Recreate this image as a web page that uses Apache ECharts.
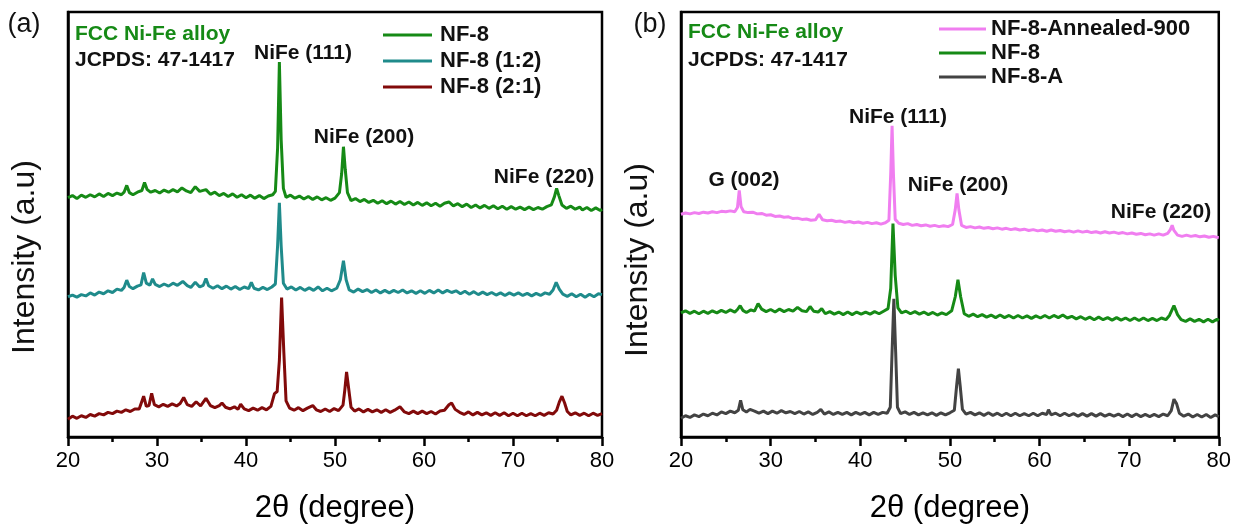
<!DOCTYPE html>
<html>
<head>
<meta charset="utf-8">
<script src="https://cdn.jsdelivr.net/npm/echarts@6/dist/echarts.min.js"></script>
<style>
	html, body { margin: 0; padding: 0; background: #fff; }
	#main { width: 1234px; height: 529px; }
</style>
</head>
<body>
<div id="main"></div>
<script>
// x ticks (2theta, degree)
var xTicks = [20, 30, 40, 50, 60, 70, 80];

// (a) NF-8
var nf8a = [[20,56.3],[20.5,56.8],[21,56.1],[21.5,56.9],[22,56.4],[22.5,57.0],[23,56.5],[23.5,57.2],[24,56.6],[24.5,57.3],[25,56.8],[25.5,57.4],[26,57.0],[26.3,57.6],[26.6,59.2],[26.9,57.5],[27.3,57.0],[27.8,57.6],[28.3,58.0],[28.6,59.9],[28.9,58.2],[29.3,57.6],[29.8,58.0],[30.3,57.4],[30.8,58.1],[31.3,57.6],[31.8,58.2],[32.3,57.7],[32.8,58.6],[33.3,57.9],[33.8,57.5],[34.3,58.9],[34.8,57.8],[35.5,58.2],[36,57.1],[36.5,57.6],[37,56.8],[37.5,57.3],[38,56.6],[38.5,57.2],[39,56.4],[39.5,57.0],[40,56.3],[40.5,56.9],[41,56.2],[41.5,56.8],[42,56.1],[42.5,56.7],[43,57.0],[43.3,57.8],[43.55,68],[43.75,88.2],[43.95,70],[44.2,58.5],[44.5,56.4],[45,56.9],[45.5,56.2],[46,56.7],[46.5,56.0],[47,56.6],[47.5,55.9],[48,56.5],[48.5,55.8],[49,56.3],[49.5,55.7],[50,56.2],[50.5,57.5],[50.75,62],[50.95,68.3],[51.15,63],[51.4,57.5],[51.8,55.6],[52.3,56.1],[52.8,55.4],[53.3,55.9],[53.8,55.2],[54.3,55.7],[54.8,55.0],[55.3,55.6],[55.8,54.9],[56.3,55.5],[56.8,54.8],[57.3,55.4],[57.8,54.7],[58.3,55.3],[58.8,54.6],[59.3,55.2],[59.8,54.5],[60.3,55.1],[60.8,54.4],[61.3,55.0],[61.8,54.3],[62.3,55.0],[62.8,55.3],[63.3,54.4],[63.8,54.9],[64.3,54.2],[64.8,54.8],[65.3,54.0],[65.8,54.6],[66.3,53.9],[66.8,54.5],[67.3,53.8],[67.8,54.4],[68.3,53.7],[68.8,54.3],[69.3,53.6],[69.8,54.2],[70.3,53.6],[70.8,54.1],[71.3,53.5],[71.8,54.1],[72.3,53.5],[72.8,54.0],[73.3,53.6],[73.8,54.2],[74.3,54.6],[74.65,56.5],[74.9,58.5],[75.15,56.8],[75.5,54.6],[76,53.8],[76.5,54.3],[77,53.6],[77.5,54.1],[77.8,53.4],[78.3,54.0],[78.8,53.3],[79.3,53.9],[79.8,53.3],[80,53.6]];

// (a) NF-8 (1:2)
var nf8_12 = [[20,33.0],[20.5,33.4],[21,32.9],[21.5,33.5],[22,33.2],[22.5,33.9],[23,33.4],[23.5,34.1],[24,33.7],[24.5,34.4],[25,34.0],[25.5,34.8],[26,34.5],[26.3,35.2],[26.6,36.9],[26.9,35.4],[27.3,34.9],[27.8,35.5],[28.2,35.8],[28.5,38.7],[28.8,36.2],[29.2,35.7],[29.5,37.2],[29.8,35.9],[30.3,35.4],[30.8,36.0],[31.3,35.5],[31.8,36.2],[32.3,35.7],[32.9,36.6],[33.4,35.6],[33.8,35.2],[34.3,36.4],[34.8,35.3],[35.2,35.7],[35.5,37.3],[35.8,35.6],[36.3,35.0],[36.8,35.6],[37.3,34.9],[37.8,35.5],[38.3,34.8],[38.8,35.4],[39.3,34.7],[39.8,35.3],[40.3,34.9],[40.6,36.4],[40.9,35.0],[41.4,34.6],[41.9,35.2],[42.4,34.7],[42.9,35.3],[43.3,36.0],[43.55,45],[43.75,55.1],[43.95,45],[44.2,36.2],[44.6,34.8],[45.1,35.3],[45.6,34.6],[46.1,35.2],[46.6,34.5],[47.1,35.1],[47.6,34.5],[48.1,35.3],[48.6,34.4],[49.1,35.0],[49.6,34.4],[50.2,35.0],[50.6,37],[50.95,41.5],[51.25,37],[51.6,34.6],[52.1,34.1],[52.6,34.8],[53.1,34.2],[53.6,34.7],[54.1,34.0],[54.6,34.6],[55.1,33.9],[55.6,34.5],[56.1,33.9],[56.6,34.5],[57.1,34.0],[57.6,34.6],[58.1,33.9],[58.6,34.4],[59.1,33.8],[59.6,34.4],[60.1,33.8],[60.6,34.5],[61.1,33.9],[61.6,34.6],[62.1,33.9],[62.6,34.5],[63.1,34.0],[63.6,34.4],[64.1,33.7],[64.6,34.3],[65.1,33.6],[65.6,34.2],[66.1,33.5],[66.6,34.1],[67.1,33.5],[67.6,34.0],[68.1,33.4],[68.6,33.9],[69.1,33.3],[69.6,33.9],[70.1,33.4],[70.6,33.9],[71.1,33.3],[71.6,33.8],[72.1,33.2],[72.6,33.8],[73.1,33.3],[73.6,33.9],[74.1,33.6],[74.5,34.6],[74.85,36.4],[75.2,34.8],[75.6,33.6],[76.1,33.1],[76.6,33.7],[77.1,33.0],[77.6,33.6],[78.1,32.9],[78.6,33.6],[79.1,33.0],[79.6,33.7],[80,33.5]];

// (a) NF-8 (2:1)
var nf8_21 = [[20,4.2],[20.5,4.9],[21,4.4],[21.5,5.0],[22,4.6],[22.5,5.3],[23,4.9],[23.5,5.5],[24,5.2],[24.5,5.8],[25,5.5],[25.5,6.1],[26,5.8],[26.5,6.4],[27,6.0],[27.5,6.6],[28,6.6],[28.5,9.6],[28.8,7.2],[29.1,7.4],[29.4,10.3],[29.7,7.6],[30.2,7.1],[30.7,7.7],[31.2,7.2],[31.7,7.8],[32.2,7.3],[32.6,7.9],[33,9.3],[33.4,7.6],[33.9,7.2],[34.4,8.3],[34.9,7.3],[35.5,9.1],[36,7.4],[36.5,6.9],[37,7.4],[37.3,8.0],[37.7,7.0],[38.2,6.6],[38.7,7.1],[39.1,6.5],[39.4,7.7],[39.8,6.6],[40.3,6.2],[40.8,6.8],[41.3,6.3],[41.8,6.9],[42.3,6.4],[42.8,7.2],[43.2,10.2],[43.5,10.7],[43.75,18],[44.0,32.8],[44.25,20],[44.5,8.5],[44.9,6.8],[45.4,6.3],[45.9,6.9],[46.4,6.2],[46.9,6.8],[47.5,7.4],[47.9,6.4],[48.4,6.0],[48.9,6.6],[49.4,6.0],[49.9,6.7],[50.4,6.2],[50.9,7.5],[51.1,11],[51.3,15.3],[51.5,12],[51.8,7.0],[52.2,6.1],[52.7,6.6],[53.2,5.9],[53.7,6.5],[54.2,5.9],[54.7,6.4],[55.2,5.8],[55.7,6.4],[56.2,5.8],[56.7,6.3],[57.3,7.1],[57.8,5.9],[58.3,5.5],[58.8,6.1],[59.3,5.5],[59.8,6.1],[60.3,5.5],[60.8,6.0],[61.3,5.4],[61.8,6.1],[62.3,6.3],[62.8,7.6],[63.1,8.0],[63.5,6.5],[64,5.8],[64.5,5.3],[65,5.9],[65.5,5.2],[66,5.8],[66.5,5.2],[67,5.7],[67.5,5.1],[68,5.7],[68.5,5.1],[69,5.7],[69.5,5.0],[70,5.6],[70.5,5.0],[71,5.6],[71.5,5.0],[72,5.5],[72.5,5.0],[73,5.6],[73.5,5.1],[74,5.7],[74.5,5.4],[74.9,6.3],[75.2,8.2],[75.5,9.6],[75.8,8.0],[76.1,6.0],[76.5,5.2],[77,5.7],[77.5,5.1],[78,5.6],[78.5,5.0],[79,5.6],[79.5,5.1],[80,5.5]];

// (b) NF-8-Annealed-900
var nf8ann = [[20,52.4],[20.5,52.7],[21,52.5],[21.5,52.8],[22,52.6],[22.5,52.9],[23,52.7],[23.5,53.0],[24,52.8],[24.5,53.1],[25,53.0],[25.5,53.2],[26,53.0],[26.3,54.0],[26.5,58.0],[26.7,54.2],[27,53.0],[27.5,52.8],[28,52.9],[28.5,52.5],[29,52.6],[29.5,52.2],[30,52.3],[30.5,51.9],[31,52.0],[31.5,51.7],[32,51.8],[32.5,51.4],[33,51.5],[33.5,51.2],[34,51.3],[34.5,51.0],[35,51.1],[35.4,52.4],[35.8,51.1],[36.3,50.9],[36.8,51.0],[37.3,50.7],[37.8,50.8],[38.3,50.5],[38.8,50.7],[39.3,50.4],[39.8,50.6],[40.3,50.3],[40.8,50.5],[41.3,50.2],[41.8,50.4],[42.3,50.1],[42.8,50.4],[43.2,51.0],[43.4,62],[43.55,73.2],[43.7,62],[43.9,51.2],[44.3,50.3],[44.8,50.0],[45.3,50.2],[45.8,49.8],[46.3,50.0],[46.8,49.7],[47.3,49.9],[47.8,49.6],[48.3,49.8],[48.8,49.5],[49.3,49.7],[49.8,49.5],[50.3,50.0],[50.6,53.5],[50.8,57.3],[51.0,53.5],[51.3,49.8],[51.8,49.3],[52.3,49.5],[52.8,49.2],[53.3,49.4],[53.8,49.1],[54.3,49.3],[54.8,49.0],[55.3,49.2],[55.8,48.9],[56.3,49.1],[56.8,48.8],[57.3,49.0],[57.8,48.7],[58.3,48.9],[58.8,48.6],[59.3,48.8],[59.8,48.5],[60.3,48.7],[60.8,48.4],[61.3,48.7],[61.8,48.4],[62.3,48.6],[62.8,48.3],[63.3,48.5],[63.8,48.2],[64.3,48.5],[64.8,48.2],[65.3,48.4],[65.8,48.1],[66.3,48.3],[66.8,48.0],[67.3,48.3],[67.8,48.0],[68.3,48.2],[68.8,47.9],[69.3,48.1],[69.8,47.8],[70.3,48.0],[70.8,47.7],[71.3,47.9],[71.8,47.6],[72.3,47.8],[72.8,47.5],[73.3,47.8],[73.8,47.5],[74.3,47.9],[74.6,48.8],[74.8,49.8],[75.0,48.6],[75.4,47.5],[75.9,47.2],[76.4,47.5],[76.9,47.2],[77.4,47.4],[77.9,47.1],[78.4,47.3],[78.9,47.0],[79.4,47.2],[80,46.9]];

// (b) NF-8
var nf8b = [[20,29.2],[20.5,29.7],[21,29.1],[21.5,29.6],[22,29.0],[22.5,29.6],[23,29.1],[23.5,29.7],[24,29.2],[24.5,29.8],[25,29.3],[25.5,29.9],[26,29.4],[26.3,30.0],[26.6,30.9],[26.9,29.8],[27.3,29.3],[27.8,29.9],[28.2,29.6],[28.6,31.4],[29,30.1],[29.5,29.5],[30,30.0],[30.5,29.4],[31,30.1],[31.5,29.5],[32,30.0],[32.5,29.6],[33,30.5],[33.5,29.7],[34,29.5],[34.4,30.7],[34.8,29.6],[35.3,29.4],[35.7,30.2],[36.1,29.0],[36.6,29.5],[37.1,28.9],[37.6,29.4],[38.1,28.8],[38.6,29.4],[39.1,28.8],[39.6,29.4],[40.1,28.9],[40.6,29.4],[41.1,28.9],[41.6,29.5],[42.1,29.0],[42.6,29.6],[43.1,30.2],[43.4,35],[43.65,50.2],[43.9,38],[44.2,30.4],[44.6,29.2],[45.1,29.6],[45.6,29.0],[46.1,29.5],[46.6,28.9],[47.1,29.4],[47.6,28.8],[48.1,29.3],[48.6,28.7],[49.1,29.2],[49.6,28.8],[50.2,29.7],[50.6,33],[50.9,37.0],[51.2,33],[51.6,29.0],[52.1,28.4],[52.6,28.9],[53.1,28.3],[53.6,28.8],[54.1,28.2],[54.6,28.7],[55.1,28.1],[55.6,28.7],[56.1,28.1],[56.6,28.6],[57.1,28.0],[57.6,28.6],[58.1,28.0],[58.6,28.5],[59.1,27.9],[59.6,28.5],[60.1,28.0],[60.6,28.6],[61.1,28.0],[61.6,28.6],[62.1,28.1],[62.6,28.7],[63.1,28.0],[63.6,28.4],[64.1,27.8],[64.6,28.3],[65.1,27.7],[65.6,28.2],[66.1,27.6],[66.6,28.2],[67.1,27.6],[67.6,28.1],[68.1,27.5],[68.6,28.1],[69.1,27.5],[69.6,28.0],[70.1,27.4],[70.6,28.0],[71.1,27.4],[71.6,28.0],[72.1,27.4],[72.6,27.9],[73.1,27.4],[73.6,28.0],[74.1,27.6],[74.5,28.6],[75.0,30.9],[75.4,28.8],[75.8,27.6],[76.3,27.2],[76.8,27.8],[77.3,27.2],[77.8,27.7],[78.3,27.1],[78.8,27.7],[79.3,27.1],[79.8,27.7],[80,27.4]];

// (b) NF-8-A
var nf8A = [[20,4.4],[20.5,5.0],[21,4.6],[21.5,5.2],[22,4.8],[22.5,5.4],[23,5.0],[23.5,5.6],[24,5.2],[24.5,5.9],[25,5.5],[25.5,6.1],[26,5.7],[26.4,6.3],[26.65,8.6],[26.9,6.4],[27.3,5.9],[27.7,6.5],[28.2,6.1],[28.7,5.6],[29.2,6.1],[29.7,5.5],[30.2,6.1],[30.7,5.6],[31.2,6.2],[31.7,5.7],[32.2,6.0],[32.7,5.5],[33.2,6.0],[33.7,5.4],[34.2,5.9],[34.7,5.3],[35.2,5.8],[35.6,6.5],[36,5.4],[36.5,5.9],[37,5.3],[37.5,5.8],[38,5.3],[38.5,5.8],[39,5.2],[39.5,5.8],[40,5.3],[40.5,5.8],[41,5.2],[41.5,5.8],[42,5.3],[42.5,5.8],[43,5.6],[43.35,7],[43.55,20],[43.75,32.5],[43.95,20],[44.15,7],[44.5,5.5],[45,5.9],[45.5,5.3],[46,5.8],[46.5,5.2],[47,5.7],[47.5,5.2],[48,5.7],[48.5,5.1],[49,5.7],[49.5,5.2],[50,5.7],[50.5,6.3],[50.75,12],[50.95,16.1],[51.15,12],[51.4,6.5],[51.8,5.4],[52.3,5.8],[52.8,5.2],[53.3,5.7],[53.8,5.1],[54.3,5.7],[54.8,5.1],[55.3,5.6],[55.8,5.0],[56.3,5.6],[56.8,5.0],[57.3,5.6],[57.8,5.0],[58.3,5.5],[58.8,5.0],[59.3,5.6],[59.8,5.0],[60.3,5.6],[60.8,5.3],[61,6.4],[61.3,5.2],[61.8,5.6],[62.3,5.0],[62.8,5.6],[63.3,5.0],[63.8,5.5],[64.3,4.9],[64.8,5.5],[65.3,4.9],[65.8,5.5],[66.3,4.9],[66.8,5.5],[67.3,4.9],[67.8,5.4],[68.3,4.9],[68.8,5.4],[69.3,4.8],[69.8,5.4],[70.3,4.8],[70.8,5.4],[71.3,4.8],[71.8,5.3],[72.3,4.8],[72.8,5.3],[73.3,4.8],[73.8,5.4],[74.3,5.0],[74.7,6.2],[75.0,8.9],[75.3,7.8],[75.6,5.6],[76.1,4.9],[76.6,5.4],[77.1,4.7],[77.6,5.3],[78.1,4.7],[78.6,5.3],[79.1,4.6],[79.6,5.2],[80,4.8]];

var FONT = '"Liberation Sans", Arial, sans-serif';
var GREEN = '#168a16';

var chart = echarts.init(document.getElementById('main'));

function xAxisCfg(idx) {
	return {
		type: 'value',
		gridIndex: idx,
		min: xTicks[0],
		max: xTicks[xTicks.length - 1],
		interval: 10,
		name: '2\u03b8 (degree)',
		nameLocation: 'middle',
		nameGap: 56,
		nameTextStyle: { fontFamily: FONT, fontSize: 31, color: '#000' },
		axisLine: { lineStyle: { color: '#000', width: 2.5 } },
		axisTick: { length: 9, lineStyle: { color: '#000', width: 2.5 } },
		minorTick: { show: true, splitNumber: 2, length: 5, lineStyle: { color: '#000', width: 2.5 } },
		axisLabel: { fontFamily: FONT, fontSize: 22, color: '#000', margin: 13 },
		splitLine: { show: false }
	};
}

function yAxisCfg(idx) {
	return {
		type: 'value',
		gridIndex: idx,
		min: 0,
		max: 100,
		axisLine: { show: true, lineStyle: { color: '#000', width: 2.5 } },
		axisTick: { show: false },
		axisLabel: { show: false },
		splitLine: { show: false }
	};
}

function line(name, idx, data, color) {
	return {
		name: name,
		type: 'line',
		xAxisIndex: idx,
		yAxisIndex: idx,
		data: data,
		showSymbol: false,
		symbol: 'none',
		color: color,
		lineStyle: { color: color, width: 3 },
		animation: false
	};
}

function label(text, x, y, opts) {
	opts = opts || {};
	return {
		type: 'text',
		x: x,
		y: y,
		rotation: opts.rotation || 0,
		style: {
			text: text,
			fill: opts.color || '#111',
			font: (opts.weight || 'bold') + ' ' + (opts.size || 21) + 'px ' + FONT,
			textAlign: opts.align || 'center',
			textVerticalAlign: 'middle'
		}
	};
}

var legendText = { fontFamily: FONT, fontSize: 22, fontWeight: 'bold', color: '#111' };

var option = {
	backgroundColor: '#fff',
	animation: false,
	grid: [
		{ left: 68, top: 12, width: 534, height: 440, show: true, borderColor: '#000', borderWidth: 2.5 },
		{ left: 681, top: 12, width: 538, height: 440, show: true, borderColor: '#000', borderWidth: 2.5 }
	],
	xAxis: [xAxisCfg(0), xAxisCfg(1)],
	yAxis: [yAxisCfg(0), yAxisCfg(1)],
	legend: [
		{
			data: ['NF-8', 'NF-8 (1:2)', 'NF-8 (2:1)'],
			orient: 'vertical',
			left: 378,
			top: 17,
			itemWidth: 49,
			itemHeight: 3,
			itemGap: 0,
			icon: 'rect',
			selectedMode: false,
			textStyle: Object.assign({ lineHeight: 26, padding: [0, 0, 0, 3] }, legendText)
		},
		{
			data: ['NF-8-Annealed-900', 'NF-8', 'NF-8-A'],
			orient: 'vertical',
			left: 934,
			top: 12,
			itemWidth: 47,
			itemHeight: 3,
			itemGap: 0,
			icon: 'rect',
			selectedMode: false,
			textStyle: Object.assign({ lineHeight: 24 }, legendText)
		}
	],
	series: [
		line('NF-8', 0, nf8a, GREEN),
		line('NF-8 (1:2)', 0, nf8_12, '#1f8b8b'),
		line('NF-8 (2:1)', 0, nf8_21, '#820a0a'),
		line('NF-8-Annealed-900', 1, nf8ann, '#f07ef0'),
		line('NF-8', 1, nf8b, GREEN),
		line('NF-8-A', 1, nf8A, '#434343')
	],
	graphic: [
		label('(a)', 24, 25, { weight: 'normal', size: 27 }),
		label('(b)', 650, 25, { weight: 'normal', size: 27 }),
		label('Intensity (a.u)', 25, 257, { weight: 'normal', size: 32, rotation: Math.PI / 2 }),
		label('Intensity (a.u)', 638, 260, { weight: 'normal', size: 32, rotation: Math.PI / 2 }),
		label('FCC Ni-Fe alloy', 75, 34, { color: GREEN, align: 'left' }),
		label('JCPDS: 47-1417', 75, 60, { align: 'left' }),
		label('NiFe (111)', 303, 53),
		label('NiFe (200)', 364, 137),
		label('NiFe (220)', 544, 177),
		label('FCC Ni-Fe alloy', 688, 32, { color: GREEN, align: 'left' }),
		label('JCPDS: 47-1417', 688, 60, { align: 'left' }),
		label('NiFe (111)', 898, 117),
		label('G (002)', 744, 180),
		label('NiFe (200)', 958, 185),
		label('NiFe (220)', 1161, 212)
	]
};

chart.setOption(option);
</script>
</body>
</html>
